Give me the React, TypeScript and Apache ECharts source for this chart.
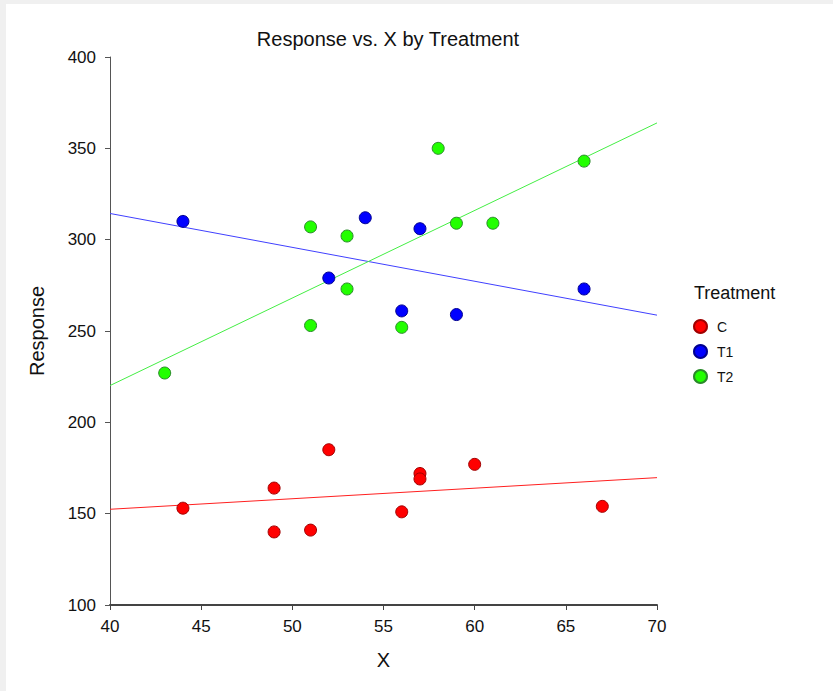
import React, { useEffect, useRef } from "react";
import * as echarts from "echarts";

const cX = [44, 49, 49, 51, 52, 56, 57, 57, 60, 67];
const cY = [153, 164, 140, 141, 185, 151, 172, 169, 177, 154];
const t1X = [44, 52, 54, 56, 57, 59, 66];
const t1Y = [310, 279, 312, 261, 306, 259, 273];
const t2X = [43, 51, 51, 53, 53, 56, 58, 59, 61, 66];
const t2Y = [227, 307, 253, 302, 273, 252, 350, 309, 309, 343];
const groups = ["C", "T1", "T2"];
const xRange = [40, 70];
const yRange = [100, 400];

function fit(xs: number[], ys: number[]) {
  const n = xs.length;
  const mx = xs.reduce((a, b) => a + b, 0) / n;
  const my = ys.reduce((a, b) => a + b, 0) / n;
  let sxy = 0, sxx = 0;
  for (let i = 0; i < n; i++) {
    sxy += (xs[i] - mx) * (ys[i] - my);
    sxx += (xs[i] - mx) ** 2;
  }
  const b = sxy / sxx;
  const a = my - b * mx;
  return xRange.map((x) => [x, a + b * x]);
}

export default function App() {
  const ref = useRef<HTMLDivElement>(null);
  useEffect(() => {
    if (!ref.current) return;
    const chart = echarts.init(ref.current, null, { renderer: "svg" });
    const font = "'Liberation Sans', Arial, sans-serif";
    const sets = [
      { name: groups[0], xs: cX, ys: cY, fill: "#ff0000", border: "#a00000", line: "#ff2020" },
      { name: groups[1], xs: t1X, ys: t1Y, fill: "#0000ff", border: "#000090", line: "#4040ff" },
      { name: groups[2], xs: t2X, ys: t2Y, fill: "#22ff00", border: "#2a8a2a", line: "#44ee44" },
    ];
    const series: any[] = [];
    sets.forEach((s) => {
      series.push({
        type: "line",
        data: fit(s.xs, s.ys),
        showSymbol: false,
        symbol: "none",
        lineStyle: { color: s.line, width: 1 },
        silent: true,
        z: 2,
      });
    });
    sets.forEach((s) => {
      series.push({
        type: "scatter",
        name: s.name,
        data: s.xs.map((x, i) => [x, s.ys[i]]),
        symbol: "circle",
        symbolSize: 12,
        itemStyle: { color: s.fill, borderColor: s.border, borderWidth: 1, opacity: 1 },
        z: 3,
      });
    });
    chart.setOption({
      animation: false,
      backgroundColor: "transparent",
      title: {
        text: "Response vs. X by Treatment",
        left: 383,
        textAlign: "center",
        top: 24,
        textStyle: { fontFamily: font, fontSize: 20, fontWeight: "normal", color: "#111" },
      },
      grid: { left: 110, right: 176, top: 57, bottom: 86 },
      xAxis: {
        type: "value",
        min: xRange[0],
        max: xRange[1],
        interval: 5,
        name: "X",
        nameLocation: "middle",
        nameGap: 45,
        nameTextStyle: { fontFamily: font, fontSize: 20, color: "#111" },
        axisLine: { show: true, onZero: false, lineStyle: { color: "#444", width: 2 } },
        axisTick: { show: true, length: 5, lineStyle: { color: "#444", width: 1 } },
        axisLabel: { fontFamily: font, fontSize: 17, color: "#111", margin: 13 },
        splitLine: { show: false },
      },
      yAxis: {
        type: "value",
        min: yRange[0],
        max: yRange[1],
        interval: 50,
        name: "Response",
        nameLocation: "middle",
        nameGap: 63,
        nameRotate: 90,
        nameTextStyle: { fontFamily: font, fontSize: 20, color: "#111" },
        axisLine: { show: true, onZero: false, lineStyle: { color: "#555", width: 1 } },
        axisTick: { show: true, length: 5, lineStyle: { color: "#555", width: 1 } },
        axisLabel: { fontFamily: font, fontSize: 17, color: "#111", margin: 14 },
        splitLine: { show: false },
      },
      legend: {
        data: groups,
        orient: "vertical",
        left: 693,
        top: 319,
        padding: 0,
        itemWidth: 13,
        itemHeight: 13,
        itemGap: 10,
        icon: "circle",
        textStyle: { fontFamily: font, fontSize: 14, color: "#111", padding: [0, 0, 0, 5] },
      },
      graphic: [
        {
          type: "text",
          left: 694,
          top: 284,
          style: { text: "Treatment", font: `18px ${font}`, fill: "#111" },
        },
      ],
      series,
    });
    return () => chart.dispose();
  }, []);
  return (
    <div style={{ position: "fixed", left: 0, top: 0, width: 833, height: 691, background: "#f0f0f0" }}>
      <div style={{ position: "absolute", left: 6, top: 4, right: 0, bottom: 0, background: "#ffffff" }} />
      <div ref={ref} style={{ position: "absolute", left: 0, top: 0, width: 833, height: 691 }} />
    </div>
  );
}
